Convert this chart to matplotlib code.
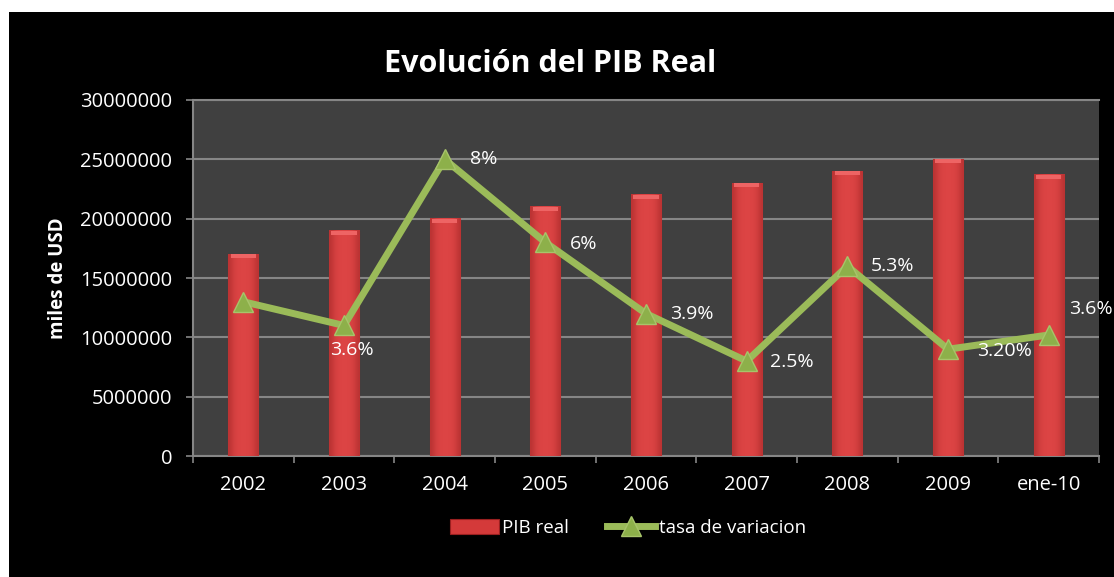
import numpy as np
import matplotlib
matplotlib.use("Agg")
import matplotlib.pyplot as plt
from matplotlib.colors import LinearSegmentedColormap
from matplotlib.patches import Rectangle

plt.rcParams["font.family"] = ["Open Sans", "DejaVu Sans"]

categories = ["2002", "2003", "2004", "2005", "2006", "2007", "2008", "2009", "ene-10"]
pib_real = [17000000, 19000000, 20000000, 21000000, 22000000, 23000000, 24000000, 25000000, 23700000]
tasa = [13000000, 11000000, 25000000, 18000000, 12000000, 8000000, 16000000, 9000000, 10200000]
tasa_labels = ["", "3.6%", "8%", "6%", "3.9%", "2.5%", "5.3%", "3.20%", "3.6%"]

BG = "#000000"
PLOT_BG = "#404040"
GRID = "#868686"
RED = "#d43a3a"
GREEN = "#9bbb59"

fig = plt.figure(figsize=(11.14, 5.77), dpi=100)
fig.patch.set_facecolor("white")
fig.add_artist(Rectangle((9 / 1114, 0), 1, 1 - 12 / 577, transform=fig.transFigure,
                         facecolor=BG, edgecolor="none", zorder=0))

ax = fig.add_axes([193 / 1114, 1 - 456 / 577, 906 / 1114, 356 / 577])
ax.set_facecolor(PLOT_BG)

x = np.arange(len(categories))
bars = ax.bar(x, pib_real, width=0.3, color=RED, edgecolor="#9a2020",
              linewidth=0.8, zorder=3, label="PIB real")

# horizontal shading on the bars (darker edges, lighter middle)
red_cmap = LinearSegmentedColormap.from_list("r", ["#9a2222", "#dc4444"])
shade = np.array([[0.5, 0.8, 0.95, 1.0, 1.0, 1.0, 0.95, 0.8, 0.5]])
for b in bars:
    x0, w, h = b.get_x(), b.get_width(), b.get_height()
    ax.imshow(shade, cmap=red_cmap, extent=(x0, x0 + w, 0, h), aspect="auto",
              zorder=3.1, vmin=0, vmax=1, interpolation="bicubic")
    # lighter top cap
    ax.add_patch(Rectangle((x0 + w * 0.08, h - 350000), w * 0.84, 350000,
                           facecolor="#ee6464", edgecolor="none", zorder=3.2))

ax.plot(x, tasa, color=GREEN, linewidth=5, marker="^", markersize=15,
        markerfacecolor="#8db04a", markeredgecolor="#a7c46a", markeredgewidth=1,
        zorder=4, label="tasa de variacion")

# label offsets in points from each marker
offsets = {
    1: (6, -18, "center"),
    2: (18, 0, "left"),
    3: (18, -1, "left"),
    4: (17, 0, "left"),
    5: (17, -1, "left"),
    6: (17, 0, "left"),
    7: (21, -1, "left"),
    8: (15, 19, "left"),
}
for i, lab in enumerate(tasa_labels):
    if not lab:
        continue
    dx, dy, ha = offsets[i]
    ax.annotate(lab, (x[i], tasa[i]), xytext=(dx, dy), textcoords="offset points",
                color="white", fontsize=14, ha=ha, va="center", zorder=5)

ax.set_xlim(-0.5, len(categories) - 0.5)
ax.set_ylim(0, 30000000)
ax.set_yticks(np.arange(0, 30000001, 5000000))
ax.set_yticklabels([str(v) for v in range(0, 30000001, 5000000)])
ax.set_xticks(x)
ax.set_xticklabels(categories)
ax.set_xticks(np.arange(-0.5, len(categories)), minor=True)
ax.tick_params(axis="x", which="major", length=0, pad=14, colors="white", labelsize=14.5)
ax.tick_params(axis="x", which="minor", length=5, color=GRID, width=1.2)
ax.tick_params(axis="y", length=5, color=GRID, width=1.2, colors="white", labelsize=14.5, pad=10)

ax.grid(axis="y", color=GRID, linewidth=1.5, zorder=1)
ax.set_axisbelow(True)
for side in ["left", "bottom", "top"]:
    ax.spines[side].set_color(GRID)
    ax.spines[side].set_linewidth(1.5)
ax.spines["right"].set_visible(False)

ax.set_ylabel("miles de USD", color="white", fontsize=13.5, fontweight="bold", labelpad=9)

fig.text(550 / 1114, 1 - 64 / 577, "Evolución del PIB Real", color="white",
         fontsize=22, fontweight="bold", ha="center", va="center")

handles, labels = ax.get_legend_handles_labels()
order = [labels.index("PIB real"), labels.index("tasa de variacion")]
fig.legend([handles[i] for i in order], [labels[i] for i in order],
           loc="center", bbox_to_anchor=(628 / 1114, 1 - 528 / 577), ncol=2,
           frameon=False, fontsize=13.5, labelcolor="white", handlelength=2.6,
           columnspacing=2.0, handletextpad=0.2, handleheight=0.9)

fig.savefig("out.png", dpi=100, facecolor=fig.get_facecolor())
